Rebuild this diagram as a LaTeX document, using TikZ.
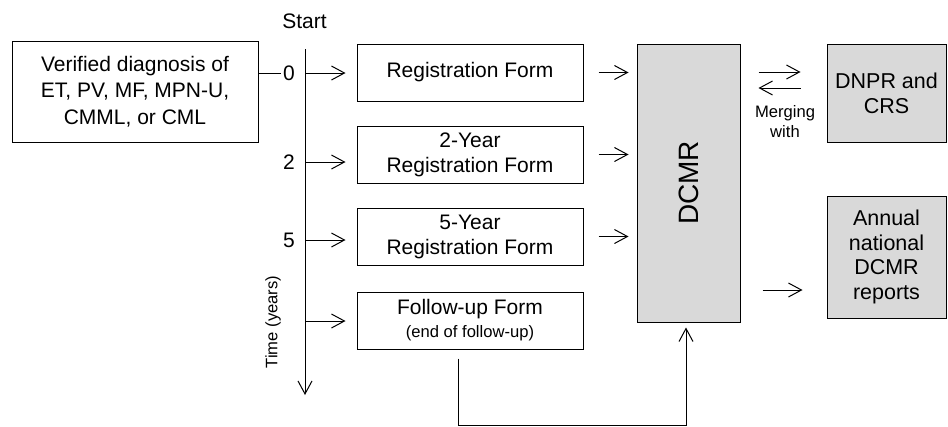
\documentclass[tikz,border=0pt]{standalone}
\usepackage{fontspec}
\setmainfont{Liberation Sans}
\usetikzlibrary{arrows.meta}
\definecolor{boxgrey}{HTML}{D9D9D9}
\begin{document}
\begin{tikzpicture}[x=1pt,y=-1pt,
  every node/.style={font=\fontsize{21}{25}\selectfont},
  box/.style={draw,line width=1pt,inner sep=0pt,align=center},
  gbox/.style={box,fill=boxgrey},
  ln/.style={line width=1pt},
  arr/.style={ln,-{Straight Barb[length=13pt,width=14pt,line width=1pt]}},
  small/.style={font=\fontsize{16.6}{20}\selectfont}]
\useasboundingbox (0,0) rectangle (948,426);
% nodes
\node[box,minimum width=246pt,minimum height=101pt,
  font=\fontsize{21}{26.7}\selectfont] (diag) at (135,91.5)
  {Verified diagnosis of\\ET, PV, MF, MPN-U,\\CMML, or CML};
\node (start) at (304.5,21) {Start};
\coordinate (ax0) at (305,49);
\coordinate (ax1) at (305,395);
\node[inner sep=2pt] (l0) at (289,73) {0};
\node[inner sep=2pt] (l2) at (289,162) {2};
\node[inner sep=2pt] (l5) at (289,240) {5};
\node[small,rotate=90] (time) at (273,322) {Time (years)};
\node[box,minimum width=226pt,minimum height=57pt] (f0) at (470,72.5) {Registration Form};
\node[box,minimum width=226pt,minimum height=57pt] (f2) at (470,154.5) {2-Year\\Registration Form};
\node[box,minimum width=226pt,minimum height=57pt] (f5) at (470,236.5) {5-Year\\Registration Form};
\node[box,minimum width=226pt,minimum height=57pt] (fu) at (470,320.5)
  {Follow-up Form\\[-2pt]{\fontsize{16.6}{20}\selectfont(end of follow-up)}};
\node[gbox,minimum width=103pt,minimum height=278pt] (dcmr) at (688.5,183) {};
\node[rotate=90,font=\fontsize{28}{30}\selectfont] (dcmrt) at (dcmr.center) {DCMR};
\node[gbox,minimum width=119pt,minimum height=98pt,font=\fontsize{21.5}{25}\selectfont] (dnpr) at (886.5,93) {DNPR and\\CRS};
\node[gbox,minimum width=119pt,minimum height=122pt,font=\fontsize{21.5}{24.5}\selectfont] (ann) at (886.5,257) {Annual\\national\\DCMR\\reports};
\node[small,align=center] (merge) at (785,122) {Merging\\with};
% time axis
\draw[arr] (ax0) -- (ax1);
\draw[ln] (diag.east |- l0) -- (l0.west);
\coordinate (t0) at (305,73);
\coordinate (t2) at (305,162);
\coordinate (t5) at (305,240);
\coordinate (tu) at (305,321);
\draw[arr,shorten >=11pt] (t0) -- (f0.west |- t0);
\draw[arr,shorten >=11pt] (t2) -- (f2.west |- t2);
\draw[arr,shorten >=11pt] (t5) -- (f5.west |- t5);
\draw[arr,shorten >=11pt] (tu) -- (fu.west |- tu);
% forms to DCMR
\draw[arr,shorten <=15pt,shorten >=8pt] (f0.east) -- (dcmr.west |- f0.east);
\draw[arr,shorten <=15pt,shorten >=8pt] (f2.east) -- (dcmr.west |- f2.east);
\draw[arr,shorten <=15pt,shorten >=8pt] (f5.east) -- (dcmr.west |- f5.east);
% follow-up loop
\coordinate (bl) at (458,425);
\coordinate (br) at (686,425);
\draw[arr,shorten <=9pt,shorten >=5pt] (fu.south -| bl) -- (bl) -- (br) -- (dcmr.south -| br);
% merging arrows
\coordinate (m1) at (758,72);
\coordinate (m2) at (758,88);
\draw[arr,shorten <=18pt,shorten >=26pt] (dcmr.east |- m1) -- (dnpr.west |- m1);
\draw[arr,shorten <=26pt,shorten >=18pt] (dnpr.west |- m2) -- (dcmr.east |- m2);
% reports arrow
\coordinate (r1) at (762,290);
\draw[arr,shorten <=22pt,shorten >=24pt] (dcmr.east |- r1) -- (ann.west |- r1);
\end{tikzpicture}
\end{document}
